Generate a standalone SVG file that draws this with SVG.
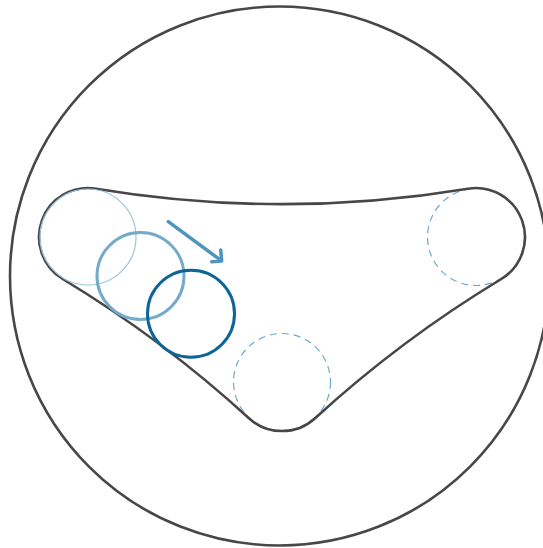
<svg xmlns="http://www.w3.org/2000/svg" width="543" height="548" viewBox="0 0 543 548">
<style>
.dark{fill:none;stroke:#474747;stroke-width:2.6}
.dash{fill:none;stroke:#6fa9cd;stroke-width:1.2;stroke-dasharray:7 5}
</style>
<rect width="543" height="548" fill="#ffffff"/>
<g id="outer-circle"><circle class="dark" cx="279.5" cy="276" r="269.5"/></g>
<g id="ghost-circles">
<circle class="dash" cx="476" cy="237" r="48.5"/>
<circle class="dash" cx="282" cy="382" r="48.5"/>
</g>
<g id="envelope">
<path class="dark" d="M96,188.7 A1135,1135 0 0 0 468,188.7 A49,49 0 0 1 501.3,279 A1176,1176 0 0 0 315.1,418.2 A49,49 0 0 1 248.9,418.2 A1176,1176 0 0 0 62.7,279 A49,49 0 0 1 96,188.7 Z"/>
</g>
<g id="rolling-circles">
<circle cx="88" cy="237" r="48" fill="none" stroke="#9cc4dc" stroke-width="1.2"/>
<circle cx="140.5" cy="276" r="43.5" fill="none" stroke="#74aaca" stroke-width="3"/>
<circle cx="191" cy="313.7" r="43.5" fill="none" stroke="#0d6597" stroke-width="3"/>
</g>
<g id="connectors">
<path d="M168.3,221.7 L221.2,260.6 M220.7,250 L221.7,261 L211.7,261.7" fill="none" stroke="#4e96bf" stroke-width="3.5" stroke-linecap="round" stroke-linejoin="round"/>
</g>
</svg>
